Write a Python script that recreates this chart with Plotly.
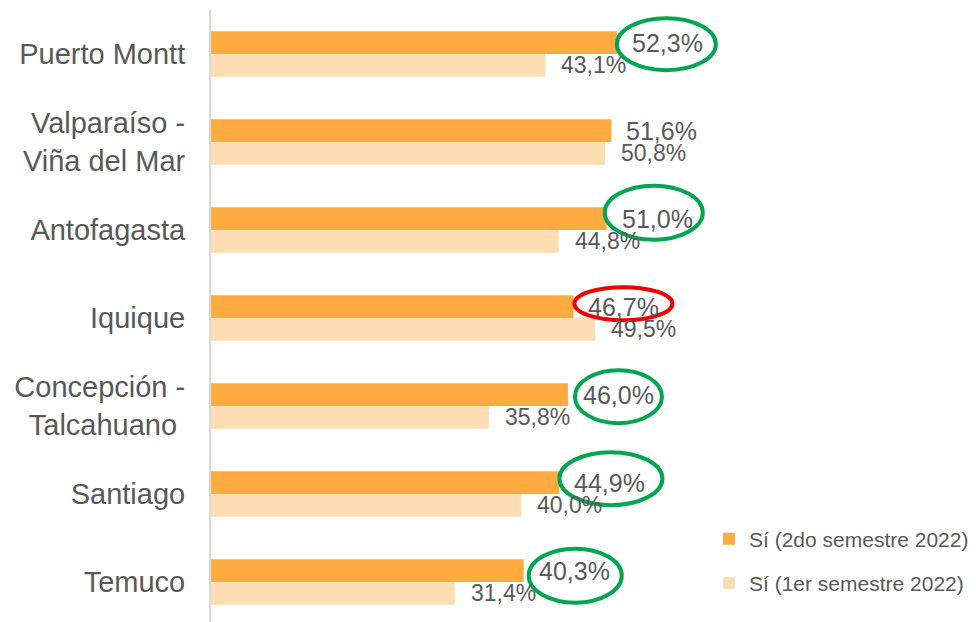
import plotly.graph_objects as go

categories = ["Puerto Montt", "Valparaíso -<br>Viña del Mar", "Antofagasta", "Iquique",
              "Concepción -<br>Talcahuano\u00a0", "Santiago", "Temuco"]
s2_2022 = [52.3, 51.6, 51.0, 46.7, 46.0, 44.9, 40.3]
s1_2022 = [43.1, 50.8, 44.8, 49.5, 35.8, 40.0, 31.4]
series_names = ["Sí (2do semestre 2022)", "Sí (1er semestre 2022)"]

# highlighted labels: category index, colour, x offset (px), width (px), height (px), y offset (px, down)
highlights = [
    (0, "#00A650", 0, 99, 52, 1.5),
    (2, "#00A650", -2, 98, 54, -6),
    (3, "#EE0000", 1, 98, 33, -3),
    (4, "#00A650", 7, 87, 53, 2),
    (5, "#00A650", 0, 103, 53, -4),
    (6, "#00A650", 5, 93, 54, 5),
]

def fmt(v):
    return f"{v:.1f}".replace(".", ",") + "%"

W, H = 976, 622
ML, MR, MT, MB = 211, 0, 10, 0
PX_PER_X = 7.76
xmax = (W - ML - MR) / PX_PER_X
ROW = 88.0
plot_h = H - MT - MB
ymax = -0.5 + plot_h / ROW

DARK = "#FFAB40"
LIGHT = "#FEDDB2"
TXT = "#595959"
FONT = "Liberation Sans, Arial, sans-serif"
BARGAP = 0.483
half = (1 - BARGAP) / 4  # offset of each bar centre from category centre

fig = go.Figure()
fig.add_trace(go.Bar(y=categories, x=s2_2022, orientation="h", name=series_names[0],
                     marker=dict(color=DARK, line=dict(width=0)), legendgroup="a"))
fig.add_trace(go.Bar(y=categories, x=s1_2022, orientation="h", name=series_names[1],
                     marker=dict(color=LIGHT, line=dict(width=0)), legendgroup="b"))

annotations = []
for i, (a, b) in enumerate(zip(s2_2022, s1_2022)):
    annotations.append(dict(x=a, y=i - half, xref="x", yref="y", text=fmt(a), showarrow=False,
                            xanchor="left", yanchor="middle", xshift=13,
                            font=dict(size=25, color=TXT, family=FONT)))
    annotations.append(dict(x=b, y=i + half, xref="x", yref="y", text=fmt(b), showarrow=False,
                            xanchor="left", yanchor="middle", xshift=14,
                            font=dict(size=23, color=TXT, family=FONT)))

shapes = []
for idx, col, dx, wpx, hpx, dy in highlights:
    v = s2_2022[idx]
    yc = idx - half + dy / ROW
    x0 = v + dx / PX_PER_X
    shapes.append(dict(type="circle", xref="x", yref="y",
                       x0=x0, x1=x0 + wpx / PX_PER_X,
                       y0=yc - hpx / 2 / ROW, y1=yc + hpx / 2 / ROW,
                       line=dict(color=col, width=4)))

fig.update_layout(
    template="none",
    width=W, height=H,
    margin=dict(l=ML, r=MR, t=MT, b=MB, autoexpand=False),
    plot_bgcolor="white", paper_bgcolor="white",
    barmode="group", bargap=BARGAP, bargroupgap=0,
    font=dict(family=FONT, color=TXT),
    xaxis=dict(range=[0, xmax], visible=False, showgrid=False, zeroline=False, automargin=False),
    yaxis=dict(range=[ymax, -0.5], showgrid=False, zeroline=False, showline=True,
               linecolor="#D9D9D9", linewidth=2, ticks="", ticklabelstandoff=18,
               automargin=False,
               tickfont=dict(size=29, color=TXT, family=FONT)),
    legend=dict(x=(709 - ML) / (W - ML), xanchor="left", y=0.03, yanchor="bottom",
                font=dict(size=21, color=TXT, family=FONT), tracegroupgap=14,
                bgcolor="rgba(0,0,0,0)"),
    annotations=annotations,
    shapes=shapes,
)

fig.write_html("out.html", config={"displayModeBar": False},
               post_script="document.body.style.margin='0';document.body.style.overflow='hidden';")
